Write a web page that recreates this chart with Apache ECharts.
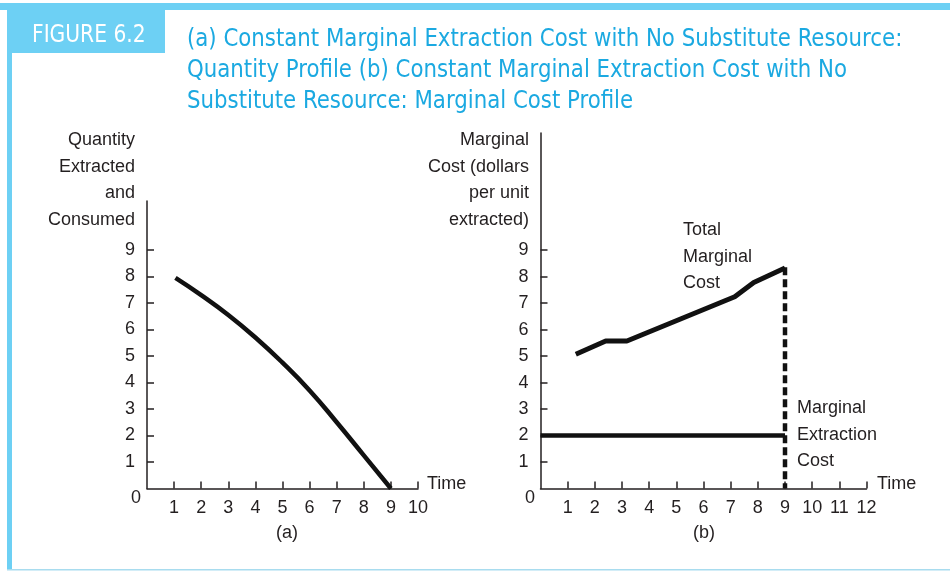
<!DOCTYPE html>
<html>
<head>
<meta charset="utf-8">
<script src="https://cdn.jsdelivr.net/npm/echarts@6/dist/echarts.min.js"></script>
<style>
  html, body { margin: 0; padding: 0; background: #fff; }
  #chart { width: 950px; height: 572px; }
</style>
</head>
<body>
<div id="chart"></div>
<script>
  // panel (a): quantity profile
  var timeA = [1.05, 2, 3, 4, 5, 6, 7, 8, 9];
  var quantityA = [7.95, 7.3, 6.55, 5.7, 4.75, 3.7, 2.5, 1.25, 0];
  var ticksA = [1, 2, 3, 4, 5, 6, 7, 8, 9, 10];

  // panel (b): marginal cost profile
  var timeTMC = [1.3, 2.4, 3.18, 7.15, 7.85, 9];
  var totalMC = [5.07, 5.57, 5.57, 7.24, 7.78, 8.32];
  var timeMEC = [0, 9];
  var extractionMC = [2, 2];
  var switchTime = [9, 9];
  var switchLine = [8.35, 0];
  var ticksB = [1, 2, 3, 4, 5, 6, 7, 8, 9, 10, 11, 12];
  var ticksY = [1, 2, 3, 4, 5, 6, 7, 8, 9];

  var ink = '#231f20';
  var font = 'Liberation Sans, Arial, sans-serif';
  var condensed = '"DejaVu Sans Condensed", "DejaVu Sans", sans-serif';

  function pairs(xs, ys) {
    return xs.map(function (x, i) { return [x, ys[i]]; });
  }

  function xAxisOf(grid, max, ticks) {
    return {
      type: 'value', gridIndex: grid, min: 0, max: max, interval: 1,
      splitLine: { show: false },
      axisLine: { lineStyle: { color: ink, width: 1.5 } },
      axisTick: { inside: true, length: 7, customValues: ticks, lineStyle: { color: ink, width: 1.5 } },
      axisLabel: { customValues: ticks, margin: 11, fontSize: 18, color: ink, fontFamily: font }
    };
  }

  function yAxisOf(grid, max) {
    return {
      type: 'value', gridIndex: grid, min: 0, max: max, interval: 1,
      splitLine: { show: false },
      axisLine: { show: true, lineStyle: { color: ink, width: 1.5 } },
      axisTick: { show: true, inside: true, length: 7, customValues: ticksY, lineStyle: { color: ink, width: 1.5 } },
      axisLabel: { customValues: ticksY, margin: 12, fontSize: 18, color: ink, fontFamily: font }
    };
  }

  function txt(x, y, text, align) {
    return {
      type: 'text', left: x, top: y,
      style: { text: text, font: '18px ' + font, fill: ink, textAlign: align || 'left', lineHeight: 26.5 }
    };
  }

  var chart = echarts.init(document.getElementById('chart'));
  var option = {
    animation: false,
    backgroundColor: '#fff',
    grid: [
      { left: 147, top: 201, width: 271, bottom: 83.5 },
      { left: 540.5, top: 133, width: 326, bottom: 83.5 }
    ],
    xAxis: [xAxisOf(0, 10, ticksA), xAxisOf(1, 12, ticksB)],
    yAxis: [yAxisOf(0, 10.85), yAxisOf(1, 13.42)],
    series: [
      {
        type: 'line', xAxisIndex: 0, yAxisIndex: 0, data: pairs(timeA, quantityA),
        smooth: 0.5, symbol: 'none', lineStyle: { color: '#111', width: 4.5 }
      },
      {
        type: 'line', xAxisIndex: 1, yAxisIndex: 1, data: pairs(timeTMC, totalMC),
        symbol: 'none', lineStyle: { color: '#111', width: 5 }
      },
      {
        type: 'line', xAxisIndex: 1, yAxisIndex: 1, data: pairs(timeMEC, extractionMC),
        symbol: 'none', lineStyle: { color: '#111', width: 4.5 }
      },
      {
        type: 'line', xAxisIndex: 1, yAxisIndex: 1, data: pairs(switchTime, switchLine),
        symbol: 'none', lineStyle: { color: '#111', width: 4.5, type: [8, 4] }
      }
    ],
    graphic: [
      // frame
      { type: 'rect', shape: { x: 0, y: 3, width: 950, height: 7 }, style: { fill: '#6dd0f4' } },
      { type: 'rect', shape: { x: 7, y: 3, width: 5, height: 567 }, style: { fill: '#6dd0f4' } },
      { type: 'rect', shape: { x: 7, y: 569, width: 943, height: 1.5 }, style: { fill: '#a8dcef' } },
      { type: 'rect', shape: { x: 12, y: 10, width: 153, height: 43 }, style: { fill: '#6dd0f4' } },
      {
        type: 'text', x: 32, y: 23, scaleX: 0.9,
        style: { text: 'FIGURE 6.2', font: '25px ' + condensed, fill: '#fff' }
      },
      {
        type: 'text', x: 187, y: 24, scaleX: 0.947,
        style: {
          text: '(a) Constant Marginal Extraction Cost with No Substitute Resource:\nQuantity Profile (b) Constant Marginal Extraction Cost with No\nSubstitute Resource: Marginal Cost Profile',
          font: '25px ' + condensed, fill: '#1ba9e1', lineHeight: 31
        }
      },
      // axis titles
      { type: 'text', right: 950 - 135, top: 127, style: { text: 'Quantity\nExtracted\nand\nConsumed', font: '18px ' + font, fill: ink, textAlign: 'right', lineHeight: 26.5 } },
      { type: 'text', right: 950 - 529, top: 127, style: { text: 'Marginal\nCost (dollars\nper unit\nextracted)', font: '18px ' + font, fill: ink, textAlign: 'right', lineHeight: 26.5 } },
      txt(131, 485, '0'),
      txt(525, 485, '0'),
      txt(427, 471, 'Time'),
      txt(877, 471, 'Time'),
      txt(276, 520, '(a)'),
      txt(693, 520, '(b)'),
      txt(683, 217, 'Total\nMarginal\nCost'),
      txt(797, 395, 'Marginal\nExtraction\nCost')
    ]
  };
  chart.setOption(option);
</script>
</body>
</html>
